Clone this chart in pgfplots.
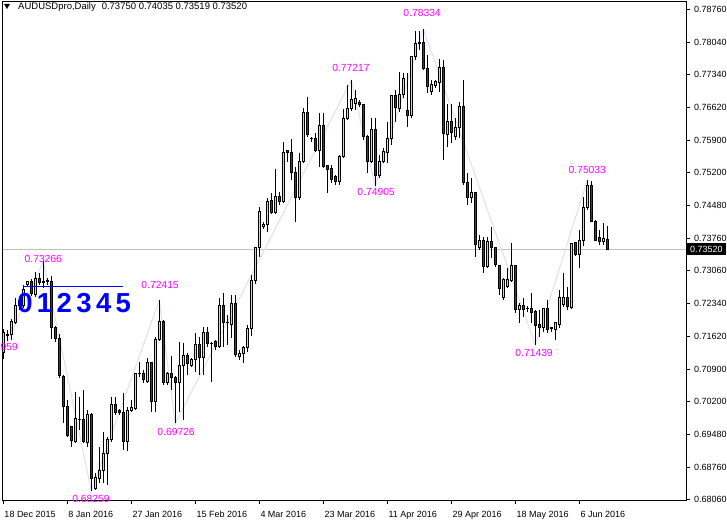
\documentclass[border=0pt]{standalone}
\usepackage{fontspec}
\setmainfont{Liberation Sans}
\usepackage{pgfplots}
\usepackage{pgfplotstable}
\pgfplotsset{compat=1.18}
\definecolor{bull}{RGB}{196,244,72}
\definecolor{bear}{RGB}{210,0,0}
\definecolor{zz}{RGB}{222,222,250}
\definecolor{pline}{RGB}{192,192,192}
\definecolor{zlab}{RGB}{255,0,255}
\newcommand\chartfont{\fontsize{9bp}{10bp}\selectfont}
\newcommand\zzfont{\fontsize{10.3bp}{12bp}\selectfont}

% daily candles, i = bar number (18 Dec 2015 = 0)
\pgfplotstableread{
i o h l c
0 0.71273 0.71797 0.71142 0.71710
1 0.71644 0.71775 0.71534 0.71666
2 0.71666 0.72015 0.71556 0.71949
3 0.71928 0.72473 0.71906 0.72298
4 0.72298 0.72473 0.72211 0.72407
5 0.72298 0.72757 0.72254 0.72648
6 0.72757 0.72844 0.72713 0.72822
7 0.72822 0.72888 0.72517 0.72561
8 0.72539 0.73040 0.72495 0.72888
9 0.72888 0.73019 0.72757 0.72801
10 0.72822 0.73266 0.72691 0.72801
11 0.72822 0.72909 0.72757 0.72844
12 0.72822 0.72953 0.71579 0.71818
13 0.71818 0.71862 0.71512 0.71579
14 0.71579 0.71688 0.70726 0.70770
15 0.70748 0.70792 0.69745 0.70093
16 0.70093 0.70246 0.69439 0.69461
17 0.69657 0.69679 0.69220 0.69351
18 0.69329 0.70421 0.69308 0.69832
19 0.69810 0.70312 0.69592 0.69812
20 0.69810 0.70465 0.69308 0.69329
21 0.69308 0.70028 0.69220 0.69919
22 0.69919 0.69963 0.68259 0.68522
23 0.68304 0.68653 0.68282 0.68543
24 0.68522 0.69220 0.68435 0.68696
25 0.68696 0.69548 0.68435 0.69068
26 0.69068 0.69439 0.68391 0.69373
27 0.69373 0.70312 0.69329 0.70137
28 0.70137 0.70312 0.69919 0.69963
29 0.70006 0.70050 0.69919 0.69963
30 0.69963 0.70400 0.69155 0.69329
31 0.69329 0.70093 0.69133 0.70006
32 0.70006 0.70246 0.69984 0.70071
33 0.70050 0.70836 0.70028 0.70814
34 0.70814 0.71076 0.70748 0.70820
35 0.70814 0.70901 0.70618 0.70683
36 0.70639 0.71163 0.70618 0.71055
37 0.71055 0.71076 0.69984 0.70202
38 0.70202 0.71622 0.69984 0.71556
39 0.71556 0.72415 0.71534 0.71949
40 0.71949 0.71993 0.70574 0.70618
41 0.70618 0.70857 0.70574 0.70814
42 0.70814 0.71207 0.70465 0.70726
43 0.70726 0.70770 0.69726 0.70618
44 0.70618 0.71512 0.69984 0.70989
45 0.70989 0.71491 0.69810 0.71207
46 0.71207 0.71273 0.70792 0.71033
47 0.70989 0.71163 0.70967 0.71120
48 0.71120 0.71710 0.70857 0.71447
49 0.71447 0.71622 0.70792 0.71163
50 0.71163 0.71840 0.70792 0.71710
51 0.71710 0.71840 0.71403 0.71469
52 0.71469 0.71512 0.70639 0.71475
53 0.71512 0.71556 0.71338 0.71403
54 0.71403 0.72473 0.71381 0.72298
55 0.72298 0.72583 0.71403 0.71928
56 0.71928 0.72102 0.71447 0.71935
57 0.71884 0.72539 0.71600 0.72342
58 0.72342 0.72539 0.71185 0.71229
59 0.71185 0.71338 0.71120 0.71251
60 0.71251 0.71425 0.71055 0.71381
61 0.71381 0.71884 0.71294 0.71797
62 0.71797 0.72975 0.71644 0.72844
63 0.72844 0.73586 0.72779 0.73564
64 0.73564 0.74459 0.73368 0.74350
65 0.74023 0.74132 0.73980 0.74067
66 0.74067 0.74656 0.73914 0.74568
67 0.74590 0.74766 0.74307 0.74329
68 0.74329 0.75289 0.74307 0.74678
69 0.74678 0.74787 0.74503 0.74568
70 0.74568 0.75878 0.74547 0.75639
71 0.75682 0.75704 0.75441 0.75639
72 0.75639 0.75944 0.75049 0.75202
73 0.75202 0.75332 0.74132 0.74656
74 0.74656 0.75639 0.74612 0.75441
75 0.75441 0.76620 0.75420 0.76512
76 0.76512 0.76860 0.75987 0.76031
77 0.75944 0.75987 0.75878 0.75950
78 0.75944 0.76075 0.75660 0.75690
79 0.75682 0.76512 0.75332 0.76228
80 0.76228 0.76512 0.75310 0.75332
81 0.75354 0.75376 0.74766 0.75267
82 0.75289 0.75376 0.74984 0.75049
83 0.75114 0.75158 0.74940 0.75005
84 0.75005 0.75595 0.74940 0.75551
85 0.75551 0.76599 0.75529 0.76381
86 0.76381 0.77122 0.76359 0.76599
87 0.76599 0.77217 0.76555 0.76795
88 0.76708 0.77013 0.76577 0.76817
89 0.76730 0.76795 0.76642 0.76686
90 0.76686 0.76708 0.75922 0.75987
91 0.75987 0.76031 0.75202 0.75441
92 0.75441 0.76403 0.75420 0.76140
93 0.76140 0.76403 0.74905 0.75136
94 0.75136 0.75595 0.75092 0.75441
95 0.75441 0.75748 0.75420 0.75660
96 0.75639 0.76315 0.75420 0.75944
97 0.75944 0.76904 0.75813 0.76882
98 0.76882 0.77013 0.76315 0.76620
99 0.76599 0.77406 0.76533 0.76904
100 0.76904 0.77384 0.76839 0.77253
101 0.76555 0.77384 0.76206 0.76446
102 0.76446 0.77755 0.76403 0.77734
103 0.77734 0.78301 0.77668 0.78018
104 0.78018 0.78301 0.77887 0.78040
105 0.78040 0.78334 0.77450 0.77472
106 0.77472 0.77777 0.76948 0.77079
107 0.76970 0.77232 0.76904 0.77123
108 0.77101 0.77232 0.77057 0.77188
109 0.77166 0.77690 0.76970 0.77494
110 0.77494 0.77668 0.75485 0.76053
111 0.76031 0.76708 0.75769 0.76315
112 0.76315 0.76708 0.75857 0.76075
113 0.75987 0.76403 0.75922 0.76184
114 0.76184 0.76752 0.75966 0.76642
115 0.76642 0.77232 0.74940 0.74984
116 0.74984 0.75202 0.74503 0.74656
117 0.74656 0.75092 0.74547 0.74765
118 0.74765 0.74787 0.73368 0.73630
119 0.73564 0.73848 0.73521 0.73717
120 0.73717 0.73805 0.73019 0.73149
121 0.73149 0.73805 0.73128 0.73695
122 0.73695 0.74023 0.73346 0.73564
123 0.73564 0.73586 0.73149 0.73193
124 0.73171 0.73193 0.72539 0.72670
125 0.72473 0.72909 0.72429 0.72866
126 0.72713 0.73128 0.72691 0.72866
127 0.72844 0.73674 0.72822 0.73171
128 0.73171 0.73193 0.72146 0.72211
129 0.72211 0.72364 0.71928 0.72298
130 0.72298 0.72473 0.72058 0.72211
131 0.72233 0.72298 0.72167 0.72240
132 0.72233 0.72583 0.71928 0.72146
133 0.72167 0.72211 0.71439 0.71862
134 0.71884 0.72211 0.71622 0.71818
135 0.71818 0.72233 0.71731 0.72233
136 0.72233 0.72429 0.71710 0.71775
137 0.71818 0.71840 0.71731 0.71800
138 0.71775 0.71949 0.71556 0.71928
139 0.71884 0.72648 0.71818 0.72473
140 0.72320 0.73019 0.72276 0.72473
141 0.72473 0.72713 0.72211 0.72276
142 0.72254 0.73674 0.72233 0.73652
143 0.73674 0.73695 0.73390 0.73412
144 0.73412 0.73958 0.73128 0.73717
145 0.73717 0.74678 0.73608 0.74437
146 0.74437 0.75033 0.74394 0.74918
147 0.74918 0.75010 0.74132 0.74140
148 0.74140 0.74176 0.73717 0.73725
149 0.73783 0.73958 0.73630 0.73695
150 0.73695 0.74110 0.73630 0.73761
151 0.73750 0.74035 0.73519 0.73520
}\candles

\begin{document}
\begin{tikzpicture}
\path[use as bounding box, fill=white] (0,0) rectangle (727bp,526bp);
\begin{axis}[
  at={(3bp,26bp)}, anchor=south west,
  scale only axis, width=683bp, height=498bp,
  xmin=-0.075, xmax=170.675,
  ymin=0.68055, ymax=0.78926,
  clip mode=individual,
  axis line style={black, line width=1bp},
  xtick pos=bottom, ytick pos=right, yticklabel pos=right,
  tick align=outside, major tick length=4bp,
  tick style={black, line width=1bp},
  scaled y ticks=false,
  xtick={0,16,...,144},
  xticklabels={18 Dec 2015,8 Jan 2016,27 Jan 2016,15 Feb 2016,4 Mar 2016,
    23 Mar 2016,11 Apr 2016,29 Apr 2016,18 May 2016,6 Jun 2016},
  ytick={0.68060,0.68760,0.69480,0.70200,0.70900,0.71620,0.72340,0.73060,
    0.73760,0.74480,0.75200,0.75900,0.76620,0.77340,0.78040,0.78760},
  yticklabels={0.68060,0.68760,0.69480,0.70200,0.70900,0.71620,0.72340,0.73060,
    0.73760,0.74480,0.75200,0.75900,0.76620,0.77340,0.78040,0.78760},
  x tick label style={anchor=north west, inner sep=0pt, xshift=1bp, yshift=-7bp, font=\chartfont},
  y tick label style={anchor=west, inner sep=0pt, xshift=4bp, font=\chartfont},
  candle/.style={draw=none, mark=none, forget plot,
    error bars/.cd, y dir=plus, y explicit, error mark=none},
]
% current price line and zigzag
\addplot[pline, line width=1bp, forget plot] coordinates {(-0.075,0.7352) (170.675,0.7352)};
\addplot[zz, line width=1bp, forget plot] coordinates {
  (-1,0.7110) (10,0.73266) (22,0.68259) (39,0.72415) (43,0.69726)
  (87,0.77217) (93,0.74905) (105,0.78334) (133,0.71439) (146,0.75033)};
% wicks
\addplot[candle, error bar style={draw=black, line width=1bp}]
  table[x=i, y=l, y error plus expr=\thisrow{h}-\thisrow{l}] {\candles};
% body outlines
\addplot[candle, error bar style={draw=black, line width=3.2bp}]
  table[x=i, y expr={min(\thisrow{o},\thisrow{c})-0.00011},
    y error plus expr={abs(\thisrow{c}-\thisrow{o})+0.00022}] {\candles};
% bull bodies (other bars pushed off the axis)
\addplot[candle, error bar style={draw=bull, line width=1.3bp}]
  table[x expr={\thisrow{i}+1000*(\thisrow{c}-\thisrow{o}<0.00023)},
    y expr={\thisrow{o}+0.00011},
    y error plus expr={abs(\thisrow{c}-\thisrow{o})-0.00022}] {\candles};
% bear bodies
\addplot[candle, error bar style={draw=bear, line width=1.3bp}]
  table[x expr={\thisrow{i}+1000*(\thisrow{o}-\thisrow{c}<0.00023)},
    y expr={\thisrow{c}+0.00011},
    y error plus expr={abs(\thisrow{o}-\thisrow{c})-0.00022}] {\candles};

% zigzag labels
\begin{scope}[every node/.style={text=zlab, font=\zzfont, inner sep=0pt}]
\node at (axis cs:10,0.73325) {0.73266};
\node at (axis cs:39.2,0.72757) {0.72415};
\node[anchor=east] at (axis cs:3.7,0.71403) {959};
\node at (axis cs:21.9,0.68086) {0.68259};
\node at (axis cs:43.2,0.69548) {0.69726};
\node at (axis cs:86.9,0.77494) {0.77217};
\node at (axis cs:93.2,0.74787) {0.74905};
\node at (axis cs:104.7,0.78694) {0.78334};
\node at (axis cs:132.7,0.71270) {0.71439};
\node at (axis cs:146,0.75267) {0.75033};
\end{scope}
% object labels
\draw[blue, line width=1bp] (axis cs:4.9,0.72713) -- (axis cs:29.9,0.72713);
\node[blue, anchor=west, inner sep=0pt, font=\fontsize{27.5bp}{30bp}\selectfont\bfseries]
  at (axis cs:3.45,0.72364) {0\kern4.4bp 1\kern4.4bp 2\kern4.4bp 3\kern4.4bp 4\kern4.4bp 5};
\end{axis}
% price box and title
\fill[black] (686bp,271bp) rectangle (726bp,283bp);
\node[white, anchor=west, inner sep=0pt, font=\chartfont] at (690bp,277bp) {0.73520};
\fill[black] (4bp,522bp) -- (10bp,522bp) -- (7bp,517bp) -- cycle;
\node[anchor=west, inner sep=0pt, font=\fontsize{9.5bp}{11bp}\selectfont] at (18bp,518.5bp)
  {AUDUSDpro,Daily\hspace{6bp}0.73750 0.74035 0.73519 0.73520};
\end{tikzpicture}
\end{document}
